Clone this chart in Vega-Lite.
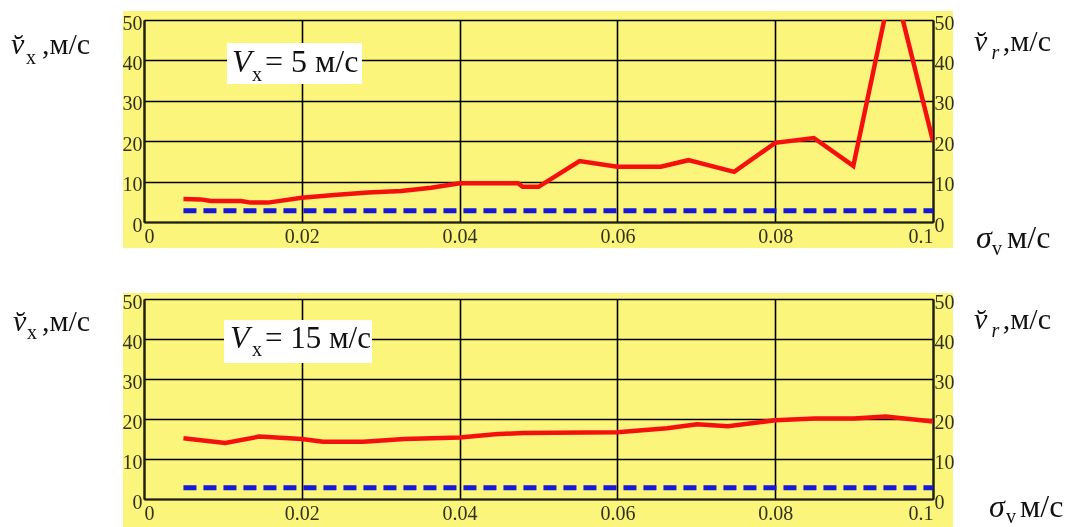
{
  "$schema": "https://vega.github.io/schema/vega-lite/v6.json",
  "padding": {"left": 10, "top": 10, "right": 0, "bottom": 0},
  "background": "white",
  "bounds": "flush",
  "spacing": 77,
  "config": {
    "view": {"stroke": null},
    "axis": {
      "ticks": false,
      "grid": true,
      "gridColor": "#000000",
      "gridWidth": 1.6,
      "gridOpacity": 1,
      "domainColor": "#1e1e1e",
      "domainWidth": 2.2,
      "labelFont": "Liberation Sans Narrow",
      "labelFontSize": 20,
      "labelColor": "#333333"
    },
    "text": {"font": "Liberation Serif", "color": "#111111"}
  },
  "datasets": {
    "top": [
      {"sigma": 0.005, "v": 5.7},
      {"sigma": 0.0072, "v": 5.6},
      {"sigma": 0.0085, "v": 5.2},
      {"sigma": 0.0123, "v": 5.2},
      {"sigma": 0.0135, "v": 4.8},
      {"sigma": 0.0157, "v": 4.8},
      {"sigma": 0.02, "v": 6.0},
      {"sigma": 0.0241, "v": 6.7},
      {"sigma": 0.0284, "v": 7.3},
      {"sigma": 0.0326, "v": 7.7},
      {"sigma": 0.0364, "v": 8.5},
      {"sigma": 0.04, "v": 9.6},
      {"sigma": 0.0474, "v": 9.6},
      {"sigma": 0.048, "v": 8.7},
      {"sigma": 0.05, "v": 8.7},
      {"sigma": 0.0552, "v": 15.1},
      {"sigma": 0.06, "v": 13.7},
      {"sigma": 0.0655, "v": 13.7},
      {"sigma": 0.069, "v": 15.3},
      {"sigma": 0.0748, "v": 12.4},
      {"sigma": 0.08, "v": 19.6},
      {"sigma": 0.0849, "v": 20.8},
      {"sigma": 0.0899, "v": 13.9},
      {"sigma": 0.0949, "v": 60},
      {"sigma": 0.1, "v": 20}
    ],
    "bottom": [
      {"sigma": 0.005, "v": 15.2},
      {"sigma": 0.0075, "v": 14.6},
      {"sigma": 0.0103, "v": 14.0},
      {"sigma": 0.0146, "v": 15.6},
      {"sigma": 0.02, "v": 15.0},
      {"sigma": 0.0227, "v": 14.3},
      {"sigma": 0.0278, "v": 14.3},
      {"sigma": 0.033, "v": 15.0},
      {"sigma": 0.04, "v": 15.4},
      {"sigma": 0.0445, "v": 16.2},
      {"sigma": 0.048, "v": 16.5},
      {"sigma": 0.06, "v": 16.7},
      {"sigma": 0.0663, "v": 17.7},
      {"sigma": 0.0701, "v": 18.7},
      {"sigma": 0.074, "v": 18.2},
      {"sigma": 0.078, "v": 19.2},
      {"sigma": 0.08, "v": 19.7},
      {"sigma": 0.085, "v": 20.1},
      {"sigma": 0.09, "v": 20.1},
      {"sigma": 0.094, "v": 20.6},
      {"sigma": 0.1, "v": 19.4}
    ],
    "blue": [
      {"sigma": 0.005, "v": 2.8},
      {"sigma": 0.1, "v": 2.8}
    ],
    "one": [{}]
  },
  "vconcat": [
    {
      "width": 789,
      "height": 202,
      "resolve": {"axis": {"x": "independent", "y": "independent"}},
      "layer": [
        {
          "data": {"name": "one"},
          "mark": {"type": "rect", "fill": "#fbf57b", "blend": "multiply"},
          "encoding": {
            "x": {"datum": -0.00266, "type": "quantitative", "scale": {"domain": [0, 0.1], "nice": false, "zero": false}, "axis": null},
            "x2": {"datum": 0.10253},
            "y": {"datum": 52.23, "type": "quantitative", "scale": {"domain": [0, 50], "nice": false}, "axis": {"title": null, "orient": "left", "grid": true, "values": [0, 10, 20, 30, 40, 50], "labelPadding": 2, "labelOffset": 3, "labelBaseline": "middle"}},
            "y2": {"datum": -6.44}
          }
        },
        {
          "data": {"name": "top"},
          "mark": {"type": "line", "color": "#f51010", "strokeWidth": 4.5, "clip": true},
          "encoding": {
            "x": {"field": "sigma", "type": "quantitative", "scale": {"domain": [0, 0.1], "nice": false}, "axis": {"title": null, "orient": "bottom", "grid": true, "values": [0, 0.02, 0.04, 0.06, 0.08, 0.1], "format": "~g", "labelPadding": 4}},
            "y": {"field": "v", "type": "quantitative", "scale": {"domain": [0, 50], "nice": false}, "axis": {"title": null, "orient": "right", "grid": false, "values": [0, 10, 20, 30, 40, 50], "labelPadding": 1, "labelOffset": 3, "labelBaseline": "middle"}}
          }
        },
        {
          "data": {"name": "blue"},
          "mark": {"type": "line", "color": "#1818d8", "strokeWidth": 5, "strokeDash": [13, 7]},
          "encoding": {
            "x": {"field": "sigma", "type": "quantitative", "axis": null},
            "y": {"field": "v", "type": "quantitative", "axis": null}
          }
        },
        {
          "data": {"name": "one"},
          "mark": {"type": "rect", "fill": "white"},
          "encoding": {
            "x": {"datum": 0.01052, "type": "quantitative", "axis": null},
            "x2": {"datum": 0.02763},
            "y": {"datum": 44.31, "type": "quantitative", "axis": null},
            "y2": {"datum": 34.16}
          }
        },
        {
          "data": {"name": "one"},
          "mark": {"type": "text", "text": "V", "fontSize": 32, "fontStyle": "italic", "align": "left", "baseline": "alphabetic"},
          "encoding": {"x": {"datum": 0.011153, "type": "quantitative", "axis": null}, "y": {"datum": 37.13, "type": "quantitative", "axis": null}}
        },
        {
          "data": {"name": "one"},
          "mark": {"type": "text", "text": "x", "fontSize": 20, "align": "left", "baseline": "alphabetic"},
          "encoding": {"x": {"datum": 0.01369, "type": "quantitative", "axis": null}, "y": {"datum": 34.9, "type": "quantitative", "axis": null}}
        },
        {
          "data": {"name": "one"},
          "mark": {"type": "text", "text": "= 5 м/с", "fontSize": 32, "align": "left", "baseline": "alphabetic"},
          "encoding": {"x": {"datum": 0.015336, "type": "quantitative", "axis": null}, "y": {"datum": 37.13, "type": "quantitative", "axis": null}}
        },
        {
          "data": {"name": "one"},
          "mark": {"type": "text", "text": "v̆", "fontSize": 30, "fontStyle": "italic", "align": "left", "baseline": "alphabetic"},
          "encoding": {"x": {"datum": -0.016857, "type": "quantitative", "axis": null}, "y": {"datum": 41.58, "type": "quantitative", "axis": null}}
        },
        {
          "data": {"name": "one"},
          "mark": {"type": "text", "text": "x", "fontSize": 20, "align": "left", "baseline": "alphabetic"},
          "encoding": {"x": {"datum": -0.014956, "type": "quantitative", "axis": null}, "y": {"datum": 39.11, "type": "quantitative", "axis": null}}
        },
        {
          "data": {"name": "one"},
          "mark": {"type": "text", "text": ",м/с", "fontSize": 30, "align": "left", "baseline": "alphabetic"},
          "encoding": {"x": {"datum": -0.01293, "type": "quantitative", "axis": null}, "y": {"datum": 41.58, "type": "quantitative", "axis": null}}
        },
        {
          "data": {"name": "one"},
          "mark": {"type": "text", "text": "v̆", "fontSize": 30, "fontStyle": "italic", "align": "left", "baseline": "alphabetic"},
          "encoding": {"x": {"datum": 0.1052, "type": "quantitative", "axis": null}, "y": {"datum": 42.33, "type": "quantitative", "axis": null}}
        },
        {
          "data": {"name": "one"},
          "mark": {"type": "text", "text": "r", "fontSize": 20, "fontStyle": "italic", "align": "left", "baseline": "alphabetic"},
          "encoding": {"x": {"datum": 0.1074, "type": "quantitative", "axis": null}, "y": {"datum": 40.35, "type": "quantitative", "axis": null}}
        },
        {
          "data": {"name": "one"},
          "mark": {"type": "text", "text": ",м/с", "fontSize": 30, "align": "left", "baseline": "alphabetic"},
          "encoding": {"x": {"datum": 0.10885, "type": "quantitative", "axis": null}, "y": {"datum": 42.33, "type": "quantitative", "axis": null}}
        },
        {
          "data": {"name": "one"},
          "mark": {"type": "text", "text": "σ", "fontSize": 32, "fontStyle": "italic", "align": "left", "baseline": "alphabetic"},
          "encoding": {"x": {"datum": 0.10545, "type": "quantitative", "axis": null}, "y": {"datum": -6.44, "type": "quantitative", "axis": null}}
        },
        {
          "data": {"name": "one"},
          "mark": {"type": "text", "text": "v", "fontSize": 20, "align": "left", "baseline": "alphabetic"},
          "encoding": {"x": {"datum": 0.10748, "type": "quantitative", "axis": null}, "y": {"datum": -8.17, "type": "quantitative", "axis": null}}
        },
        {
          "data": {"name": "one"},
          "mark": {"type": "text", "text": "м/с", "fontSize": 32, "align": "left", "baseline": "alphabetic"},
          "encoding": {"x": {"datum": 0.10938, "type": "quantitative", "axis": null}, "y": {"datum": -6.44, "type": "quantitative", "axis": null}}
        }
      ]
    },
    {
      "width": 789,
      "height": 200,
      "resolve": {"axis": {"x": "independent", "y": "independent"}},
      "layer": [
        {
          "data": {"name": "one"},
          "mark": {"type": "rect", "fill": "#fbf57b", "blend": "multiply"},
          "encoding": {
            "x": {"datum": -0.00266, "type": "quantitative", "scale": {"domain": [0, 0.1], "nice": false, "zero": false}, "axis": null},
            "x2": {"datum": 0.10253},
            "y": {"datum": 51.5, "type": "quantitative", "scale": {"domain": [0, 50], "nice": false}, "axis": {"title": null, "orient": "left", "grid": true, "values": [0, 10, 20, 30, 40, 50], "labelPadding": 2, "labelOffset": 3, "labelBaseline": "middle"}},
            "y2": {"datum": -9.5}
          }
        },
        {
          "data": {"name": "bottom"},
          "mark": {"type": "line", "color": "#f51010", "strokeWidth": 4.5, "clip": true},
          "encoding": {
            "x": {"field": "sigma", "type": "quantitative", "scale": {"domain": [0, 0.1], "nice": false}, "axis": {"title": null, "orient": "bottom", "grid": true, "values": [0, 0.02, 0.04, 0.06, 0.08, 0.1], "format": "~g", "labelPadding": 4}},
            "y": {"field": "v", "type": "quantitative", "scale": {"domain": [0, 50], "nice": false}, "axis": {"title": null, "orient": "right", "grid": false, "values": [0, 10, 20, 30, 40, 50], "labelPadding": 1, "labelOffset": 3, "labelBaseline": "middle"}}
          }
        },
        {
          "data": {"name": "blue"},
          "mark": {"type": "line", "color": "#1818d8", "strokeWidth": 5, "strokeDash": [13, 7]},
          "encoding": {
            "x": {"field": "sigma", "type": "quantitative", "axis": null},
            "y": {"field": "v", "type": "quantitative", "axis": null}
          }
        },
        {
          "data": {"name": "one"},
          "mark": {"type": "rect", "fill": "white"},
          "encoding": {
            "x": {"datum": 0.01014, "type": "quantitative", "axis": null},
            "x2": {"datum": 0.0289},
            "y": {"datum": 44.75, "type": "quantitative", "axis": null},
            "y2": {"datum": 34}
          }
        },
        {
          "data": {"name": "one"},
          "mark": {"type": "text", "text": "V", "fontSize": 32, "fontStyle": "italic", "align": "left", "baseline": "alphabetic"},
          "encoding": {"x": {"datum": 0.0109, "type": "quantitative", "axis": null}, "y": {"datum": 37.75, "type": "quantitative", "axis": null}}
        },
        {
          "data": {"name": "one"},
          "mark": {"type": "text", "text": "x", "fontSize": 20, "align": "left", "baseline": "alphabetic"},
          "encoding": {"x": {"datum": 0.01369, "type": "quantitative", "axis": null}, "y": {"datum": 35.75, "type": "quantitative", "axis": null}}
        },
        {
          "data": {"name": "one"},
          "mark": {"type": "text", "text": "= 15 м/с", "fontSize": 31, "align": "left", "baseline": "alphabetic"},
          "encoding": {"x": {"datum": 0.015336, "type": "quantitative", "axis": null}, "y": {"datum": 37.75, "type": "quantitative", "axis": null}}
        },
        {
          "data": {"name": "one"},
          "mark": {"type": "text", "text": "v̆", "fontSize": 30, "fontStyle": "italic", "align": "left", "baseline": "alphabetic"},
          "encoding": {"x": {"datum": -0.0166, "type": "quantitative", "axis": null}, "y": {"datum": 42, "type": "quantitative", "axis": null}}
        },
        {
          "data": {"name": "one"},
          "mark": {"type": "text", "text": "x", "fontSize": 20, "align": "left", "baseline": "alphabetic"},
          "encoding": {"x": {"datum": -0.01483, "type": "quantitative", "axis": null}, "y": {"datum": 40, "type": "quantitative", "axis": null}}
        },
        {
          "data": {"name": "one"},
          "mark": {"type": "text", "text": ",м/с", "fontSize": 30, "align": "left", "baseline": "alphabetic"},
          "encoding": {"x": {"datum": -0.01293, "type": "quantitative", "axis": null}, "y": {"datum": 42, "type": "quantitative", "axis": null}}
        },
        {
          "data": {"name": "one"},
          "mark": {"type": "text", "text": "v̆", "fontSize": 30, "fontStyle": "italic", "align": "left", "baseline": "alphabetic"},
          "encoding": {"x": {"datum": 0.1052, "type": "quantitative", "axis": null}, "y": {"datum": 42.5, "type": "quantitative", "axis": null}}
        },
        {
          "data": {"name": "one"},
          "mark": {"type": "text", "text": "r", "fontSize": 20, "fontStyle": "italic", "align": "left", "baseline": "alphabetic"},
          "encoding": {"x": {"datum": 0.1074, "type": "quantitative", "axis": null}, "y": {"datum": 40.5, "type": "quantitative", "axis": null}}
        },
        {
          "data": {"name": "one"},
          "mark": {"type": "text", "text": ",м/с", "fontSize": 30, "align": "left", "baseline": "alphabetic"},
          "encoding": {"x": {"datum": 0.10885, "type": "quantitative", "axis": null}, "y": {"datum": 42.5, "type": "quantitative", "axis": null}}
        },
        {
          "data": {"name": "one"},
          "mark": {"type": "text", "text": "σ", "fontSize": 32, "fontStyle": "italic", "align": "left", "baseline": "alphabetic"},
          "encoding": {"x": {"datum": 0.1071, "type": "quantitative", "axis": null}, "y": {"datum": -4.6, "type": "quantitative", "axis": null}}
        },
        {
          "data": {"name": "one"},
          "mark": {"type": "text", "text": "v", "fontSize": 20, "align": "left", "baseline": "alphabetic"},
          "encoding": {"x": {"datum": 0.10925, "type": "quantitative", "axis": null}, "y": {"datum": -6.1, "type": "quantitative", "axis": null}}
        },
        {
          "data": {"name": "one"},
          "mark": {"type": "text", "text": "м/с", "fontSize": 32, "align": "left", "baseline": "alphabetic"},
          "encoding": {"x": {"datum": 0.11103, "type": "quantitative", "axis": null}, "y": {"datum": -4.6, "type": "quantitative", "axis": null}}
        }
      ]
    }
  ]
}
